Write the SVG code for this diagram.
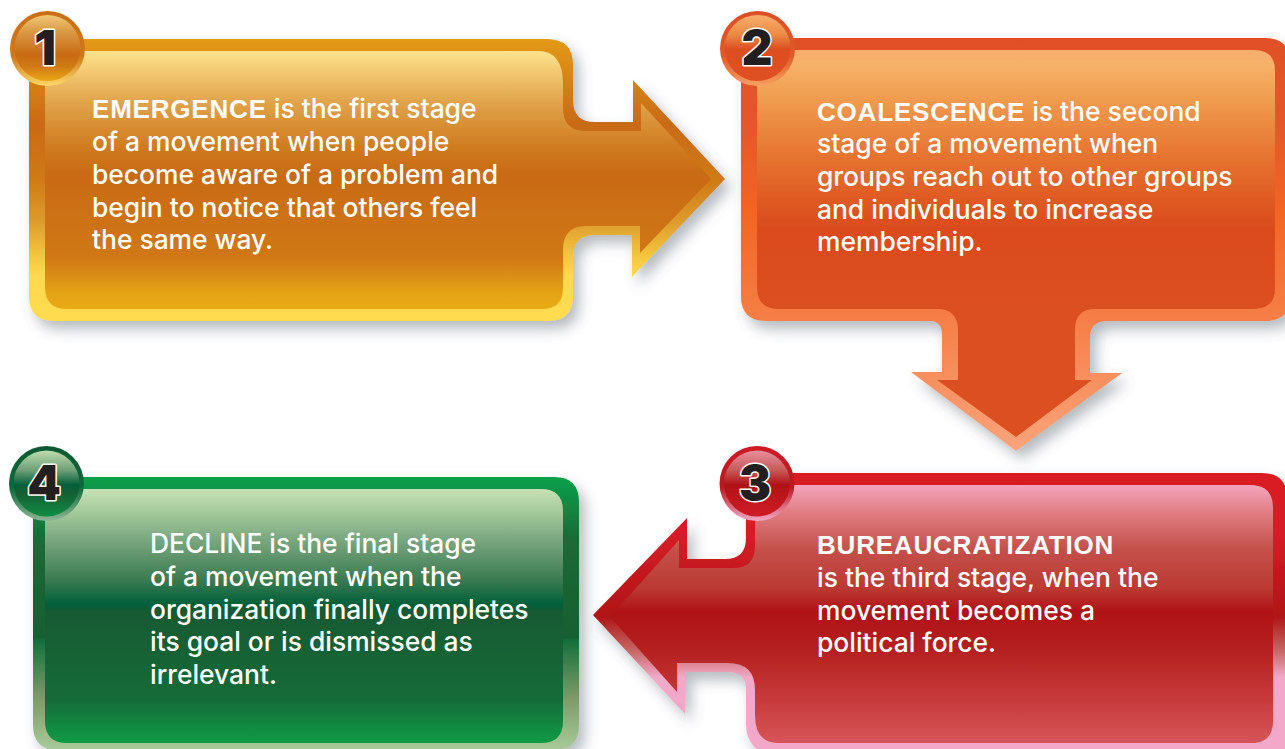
<svg xmlns="http://www.w3.org/2000/svg" width="1285" height="749" viewBox="0 0 1285 749">
<style>
text{font-family:Inter,"Liberation Sans",Arial,sans-serif}
.t{font-size:26.4px;font-weight:500;fill:#fff}
.b{font-family:"Liberation Sans",Arial,sans-serif;font-size:26px;font-weight:700;letter-spacing:.8px}
.n{font-size:48px;font-weight:900;fill:#231f20;stroke:#fff;stroke-width:3px;paint-order:stroke;stroke-linejoin:round;text-anchor:middle}
.s{filter:url(#sh)}
</style>
<defs>
<filter id="sh" x="-10%" y="-10%" width="125%" height="125%"><feDropShadow dx="6" dy="8" stdDeviation="7" flood-color="#4f5b66" flood-opacity=".42"/></filter>
<linearGradient id="b1" gradientUnits="userSpaceOnUse" x1="0" y1="39" x2="0" y2="321"><stop offset="0" stop-color="#e39a17"/><stop offset=".3" stop-color="#c96a14"/><stop offset=".5" stop-color="#cf7a16"/><stop offset=".64" stop-color="#dc9a2c"/><stop offset=".78" stop-color="#f5c940"/><stop offset=".84" stop-color="#ffd94f"/><stop offset="1" stop-color="#fedb50"/></linearGradient>
<linearGradient id="f1" gradientUnits="userSpaceOnUse" x1="0" y1="51" x2="0" y2="309"><stop offset="0" stop-color="#fce48b"/><stop offset=".08" stop-color="#f3c873"/><stop offset=".2" stop-color="#e0a34a"/><stop offset=".38" stop-color="#cf7a1e"/><stop offset=".48" stop-color="#c96a14"/><stop offset=".8" stop-color="#d07815"/><stop offset=".94" stop-color="#e5a316"/><stop offset="1" stop-color="#e9aa15"/></linearGradient>
<linearGradient id="b2" gradientUnits="userSpaceOnUse" x1="0" y1="38" x2="0" y2="451"><stop offset="0" stop-color="#e05026"/><stop offset=".22" stop-color="#e5582a"/><stop offset=".42" stop-color="#f36523"/><stop offset=".64" stop-color="#f57a40"/><stop offset=".8" stop-color="#f78d5a"/><stop offset="1" stop-color="#fba37b"/></linearGradient>
<linearGradient id="f2" gradientUnits="userSpaceOnUse" x1="0" y1="50" x2="0" y2="309"><stop offset="0" stop-color="#f8ad70"/><stop offset=".06" stop-color="#f6b268"/><stop offset=".2" stop-color="#ef9a4d"/><stop offset=".39" stop-color="#e77732"/><stop offset=".58" stop-color="#df5a22"/><stop offset=".7" stop-color="#da4a1c"/><stop offset="1" stop-color="#dc4f20"/></linearGradient>
<linearGradient id="b3" gradientUnits="userSpaceOnUse" x1="0" y1="473" x2="0" y2="749"><stop offset="0" stop-color="#d91a23"/><stop offset=".22" stop-color="#d61e26"/><stop offset=".52" stop-color="#b01217"/><stop offset=".56" stop-color="#b5312f"/><stop offset=".65" stop-color="#c96a6a"/><stop offset=".74" stop-color="#f2a8c8"/><stop offset="1" stop-color="#f4a8c9"/></linearGradient>
<linearGradient id="f3" gradientUnits="userSpaceOnUse" x1="0" y1="485" x2="0" y2="743"><stop offset="0" stop-color="#f3a6c0"/><stop offset=".1" stop-color="#e27f85"/><stop offset=".25" stop-color="#c4504a"/><stop offset=".4" stop-color="#bb3a32"/><stop offset=".49" stop-color="#b01216"/><stop offset=".64" stop-color="#b5201f"/><stop offset=".83" stop-color="#c73a3c"/><stop offset="1" stop-color="#d65558"/></linearGradient>
<linearGradient id="b4" gradientUnits="userSpaceOnUse" x1="0" y1="477" x2="0" y2="749"><stop offset="0" stop-color="#0ca04a"/><stop offset=".23" stop-color="#1a6a36"/><stop offset=".59" stop-color="#195f30"/><stop offset=".6" stop-color="#15703c"/><stop offset=".82" stop-color="#7f9c6a"/><stop offset="1" stop-color="#a7c998"/></linearGradient>
<linearGradient id="f4" gradientUnits="userSpaceOnUse" x1="0" y1="489" x2="0" y2="743"><stop offset="0" stop-color="#c6e1b5"/><stop offset=".08" stop-color="#a9cd9e"/><stop offset=".2" stop-color="#7aa77f"/><stop offset=".36" stop-color="#3a7a50"/><stop offset=".455" stop-color="#00603a"/><stop offset=".485" stop-color="#175a33"/><stop offset=".83" stop-color="#156c38"/><stop offset="1" stop-color="#0f9b47"/></linearGradient>
<linearGradient id="r1" x1="0" y1="0" x2="0" y2="1"><stop offset="0" stop-color="#c96e14"/><stop offset=".6" stop-color="#d07818"/><stop offset="1" stop-color="#fdd96a"/></linearGradient>
<linearGradient id="d1" x1="0" y1="0" x2="0" y2="1"><stop offset="0" stop-color="#f0c878"/><stop offset=".25" stop-color="#da9a44"/><stop offset=".6" stop-color="#c96a14"/><stop offset=".78" stop-color="#d07a15"/><stop offset="1" stop-color="#e8a814"/></linearGradient>
<linearGradient id="r2" x1="0" y1="0" x2="0" y2="1"><stop offset="0" stop-color="#dc4f26"/><stop offset=".6" stop-color="#e05a28"/><stop offset="1" stop-color="#f9a060"/></linearGradient>
<linearGradient id="d2" x1="0" y1="0" x2="0" y2="1"><stop offset="0" stop-color="#f7ae6c"/><stop offset=".3" stop-color="#ec8a44"/><stop offset=".52" stop-color="#dc4e20"/><stop offset="1" stop-color="#e04f22"/></linearGradient>
<linearGradient id="r3" x1="0" y1="0" x2="0" y2="1"><stop offset="0" stop-color="#cf1b25"/><stop offset=".55" stop-color="#b81a1f"/><stop offset="1" stop-color="#f4a8c6"/></linearGradient>
<linearGradient id="d3" x1="0" y1="0" x2="0" y2="1"><stop offset="0" stop-color="#e88f9f"/><stop offset=".3" stop-color="#c65a58"/><stop offset=".52" stop-color="#b01216"/><stop offset="1" stop-color="#d01c25"/></linearGradient>
<linearGradient id="r4" x1="0" y1="0" x2="0" y2="1"><stop offset="0" stop-color="#0e5a30"/><stop offset=".55" stop-color="#0a6a3a"/><stop offset="1" stop-color="#8fb596"/></linearGradient>
<linearGradient id="d4" x1="0" y1="0" x2="0" y2="1"><stop offset="0" stop-color="#bddcae"/><stop offset=".3" stop-color="#6f9f78"/><stop offset=".52" stop-color="#03603a"/><stop offset=".65" stop-color="#175f33"/><stop offset="1" stop-color="#0f8e45"/></linearGradient>
</defs>
<rect width="1285" height="749" fill="#fff"/>
<g id="node-4">
<path class="s" fill="url(#b4)" d="M58,477H554Q579,477 579,502V725Q579,750 554,750H58Q33,750 33,725V502Q33,477 58,477Z"/>
<path fill="url(#f4)" d="M67,489H541Q563,489 563,511V721Q563,743 541,743H67Q45,743 45,721V511Q45,489 67,489Z"/>
<text class="t"><tspan x="150" y="552.6">DECLINE is the final stage</tspan><tspan x="150" y="585.5">of a movement when the</tspan><tspan x="150" y="618.5">organization finally completes</tspan><tspan x="150" y="651">its goal or is dismissed as</tspan><tspan x="150" y="684">irrelevant.</tspan></text>
<circle cx="46.5" cy="483.5" r="37.5" fill="url(#r4)"/><circle cx="46.5" cy="483.5" r="33" fill="url(#d4)"/>
<text class="n" x="44" y="499.5">4</text>
</g>
<g id="node-3">
<path class="s" fill="url(#b3)" d="M775,473H1262Q1287,473 1287,498V760H775Q746,749 746,725V690Q746,672 728,672H685V714L593,615 687,518V559H725Q746,559 746,538V500Q746,473 775,473Z"/>
<path fill="url(#f3)" d="M780,485H1250Q1273,485 1273,508V721Q1273,743 1251,743H778Q755,743 755,715V690Q755,663 728,663H677V692L610,617 679,540V568H733Q755,568 755,546V507Q755,485 780,485Z"/>
<text class="t"><tspan class="b" x="817" y="554">BUREAUCRATIZATION</tspan><tspan x="817" y="587">is the third stage, when the</tspan><tspan x="817" y="620">movement becomes a</tspan><tspan x="817" y="652">political force.</tspan></text>
<circle cx="757" cy="483.5" r="37.5" fill="url(#r3)"/><circle cx="757" cy="483.5" r="33" fill="url(#d3)"/>
<text class="n" x="755" y="499.5">3</text>
</g>
<g id="node-1">
<path class="s" fill="url(#b1)" d="M54,39H547Q573,39 573,65V100Q573,122 595,122H633V80L725,179 632,277V235H595Q573,235 573,257V296Q573,321 548,321H54Q29,321 29,296V64Q29,39 54,39Z"/>
<path fill="url(#f1)" d="M67,51H538Q563,51 563,84V108Q563,131 586,131H641V103L711,179 640,253V226H586Q563,226 563,250V288Q563,309 542,309H67Q45,309 45,287V73Q45,51 67,51Z"/>
<text class="t"><tspan x="92" y="118.3"><tspan class="b">EMERGENCE</tspan> is the first stage</tspan><tspan x="92" y="151">of a movement when people</tspan><tspan x="92" y="183.7">become aware of a problem and</tspan><tspan x="92" y="216.5">begin to notice that others feel</tspan><tspan x="92" y="249">the same way.</tspan></text>
<circle cx="47.5" cy="48.5" r="37.5" fill="url(#r1)"/><circle cx="47.5" cy="48" r="33" fill="url(#d1)"/>
<text class="n" x="45" y="65">1</text>
</g>
<g id="node-2">
<path class="s" fill="url(#b2)" d="M766,38H1265Q1290,38 1290,63V296Q1290,321 1265,321H1107Q1090,321 1090,338V373H1122L1016,451 911,372H942V335Q942,321 930,321H766Q741,321 741,296V63Q741,38 766,38Z"/>
<path fill="url(#f2)" d="M779,50H1254Q1275,50 1275,71V288Q1275,309 1254,309H1095Q1075,309 1075,330V380H1092L1016,437 937,380H958V330Q958,309 937,309H779Q757,309 757,287V72Q757,50 779,50Z"/>
<text class="t"><tspan x="817" y="120.5"><tspan class="b">COALESCENCE</tspan> is the second</tspan><tspan x="817" y="153">stage of a movement when</tspan><tspan x="817" y="186">groups reach out to other groups</tspan><tspan x="817" y="218.5">and individuals to increase</tspan><tspan x="817" y="251">membership.</tspan></text>
<circle cx="757.5" cy="48.5" r="37.5" fill="url(#r2)"/><circle cx="757.5" cy="48" r="33" fill="url(#d2)"/>
<text class="n" x="757" y="65">2</text>
</g>
</svg>
